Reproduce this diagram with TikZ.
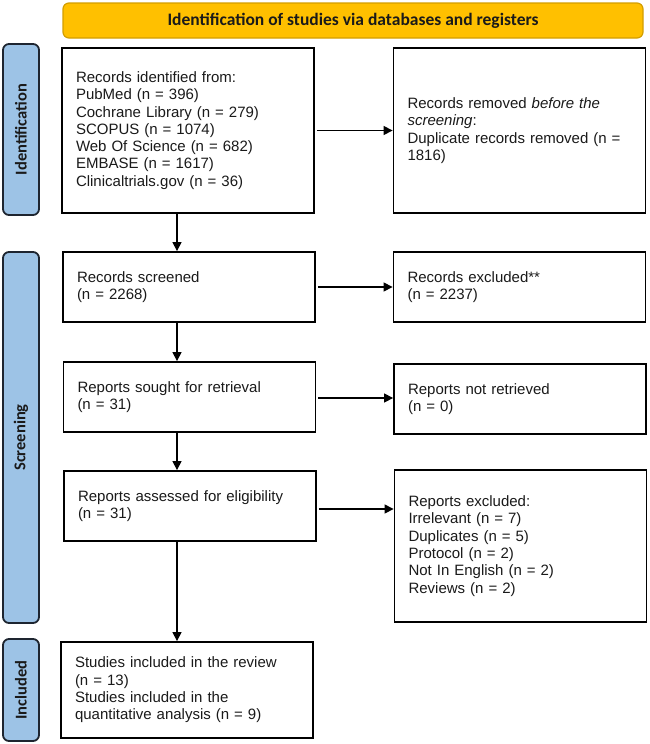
\documentclass[tikz,border=0pt]{standalone}
\usepackage{fontspec}
\setmainfont{Liberation Sans}
\newfontfamily\hdfont{Carlito}
\usetikzlibrary{arrows.meta}
\definecolor{hdfill}{HTML}{FFC000}
\definecolor{hdline}{HTML}{D39E00}
\definecolor{lblfill}{HTML}{9DC3E6}
\definecolor{lblline}{HTML}{1E2530}
\definecolor{txt}{HTML}{1A1A1A}
\begin{document}
\begin{tikzpicture}[x=1pt,y=-1pt,
  box/.style={draw=black, line width=1.8pt, fill=white, inner xsep=14pt, inner ysep=0pt,
    text width=224pt, align=left, font=\fontsize{15}{17.3}\selectfont, text=txt},
  lbl/.style={draw=lblline, fill=lblfill, line width=1.8pt, rounded corners=6pt, rotate=90,
    minimum height=36pt, inner sep=0pt, text=txt, font=\hdfont\bfseries\fontsize{16.5}{18}\selectfont},
  hdr/.style={draw=hdline, fill=hdfill, line width=1.2pt, rounded corners=6pt, text=txt,
    font=\hdfont\bfseries\fontsize{17.5}{20}\selectfont},
  arr/.style={line width=1.2pt, -{Triangle[length=9pt,width=9pt]}}]
\useasboundingbox (0,0) rectangle (650,744);

% header
\node[hdr, minimum width=580pt, minimum height=35pt] (hd) at (353,20.5) {Identification of studies via databases and registers};

% side labels
\node[lbl, minimum width=171pt] (lid) at (21,129.5) {Identification};
\node[lbl, minimum width=371pt] (lsc) at (21,437.5) {Screening};
\node[lbl, minimum width=102pt] (lin) at (21,690) {Included};

% left column
\node[box, minimum height=165pt] (b1) at (188,130.5) {Records identified from:\\PubMed (n = 396)\\Cochrane Library (n = 279)\\SCOPUS (n = 1074)\\Web Of Science (n = 682)\\EMBASE (n = 1617)\\Clinicaltrials.gov (n = 36)};
\node[box, minimum height=70pt] (b2) at (189,287) {Records screened\\(n = 2268)};
\node[box, minimum height=70pt] (b3) at (189.5,397) {Reports sought for retrieval\\(n = 31)};
\node[box, minimum height=70pt] (b4) at (190,506) {Reports assessed for eligibility\\(n = 31)};
\node[box, minimum height=96pt] (b5) at (187,690) {Studies included in the review\\(n = 13)\\Studies included in the\\quantitative analysis (n = 9)};

% right column
\node[box, minimum height=165pt] (r1) at (519.5,130.5) {Records removed \textit{before the}\\\textit{screening}:\\Duplicate records removed (n =\\1816)};
\node[box, minimum height=70pt] (r2) at (519.5,287) {Records excluded**\\(n = 2237)};
\node[box, minimum height=70pt] (r3) at (520,399) {Reports not retrieved\\(n = 0)};
\node[box, minimum height=152pt] (r4) at (520.5,546) {Reports excluded:\\Irrelevant (n = 7)\\Duplicates (n = 5)\\Protocol (n = 2)\\Not In English (n = 2)\\Reviews (n = 2)};

% vertical connectors
\coordinate (ax) at (177,0);
\draw[arr] (b1.south -| ax) -- (b2.north -| ax);
\draw[arr] (b2.south -| ax) -- (b3.north -| ax);
\draw[arr] (b3.south -| ax) -- (b4.north -| ax);
\draw[arr] (b4.south -| ax) -- (b5.north -| ax);

% horizontal connectors
\coordinate (s3) at ([yshift=-1pt]b3.east);
\coordinate (s4) at ([yshift=-3pt]b4.east);
\draw[arr, shorten <=2pt] (b1.east) -- (r1.west);
\draw[arr, shorten <=2pt] (b2.east) -- (r2.west);
\draw[arr, shorten <=2pt] (s3) -- (r3.west |- s3);
\draw[arr, shorten <=2pt] (s4) -- (r4.west |- s4);
\end{tikzpicture}
\end{document}
